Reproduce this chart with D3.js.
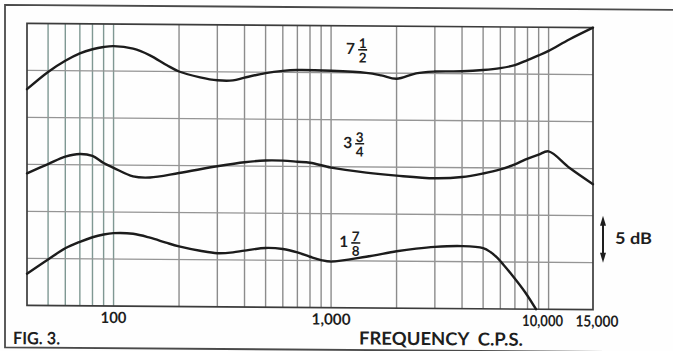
<!DOCTYPE html>
<html><head><meta charset="utf-8">
<script src="https://cdn.jsdelivr.net/npm/d3@7"></script>
<style>html,body{margin:0;padding:0;background:#fff;} svg{display:block;}</style>
</head><body><svg id="c" width="673" height="351"></svg>
<script>
// ---- data (frequency in c.p.s., response in dB relative to bottom of grid) ----
const freq7 = [40, 50, 60, 70, 80, 90, 100, 123, 147, 176, 200, 250, 300, 354, 400, 500, 600, 700, 1000, 1450, 1700, 2000, 2460, 3000, 4000, 5000, 6000, 7000, 8000, 9000, 10000, 12500, 16000];
const db7   = [23.0, 24.85, 26.05, 26.85, 27.3, 27.55, 27.65, 27.4, 26.7, 25.65, 25.0, 24.4, 24.1, 24.1, 24.4, 24.9, 25.15, 25.25, 25.2, 25.0, 24.75, 24.4, 25.0, 25.2, 25.25, 25.4, 25.62, 25.95, 26.5, 27.0, 27.5, 28.75, 30.0];

const freq3 = [40, 50, 60, 70, 80, 90, 100, 123, 147, 200, 300, 400, 500, 600, 700, 800, 1000, 1450, 2000, 3000, 4000, 5000, 6000, 7000, 7800, 9000, 10000, 12500, 16000];
const db3   = [14.05, 15.05, 15.85, 16.15, 15.95, 15.2, 14.7, 13.8, 13.7, 14.2, 14.95, 15.4, 15.6, 15.6, 15.5, 15.4, 14.9, 14.4, 14.1, 13.85, 14.0, 14.4, 14.85, 15.4, 15.9, 16.45, 16.8, 15.05, 13.35];

const freq1 = [40, 50, 60, 70, 80, 90, 100, 123, 147, 176, 200, 250, 300, 354, 400, 500, 600, 700, 800, 900, 1000, 1450, 2000, 2460, 3000, 4000, 5000, 5400, 5800, 6200, 6800, 7800, 8750];
const db1   = [3.37, 4.9, 6.1, 6.8, 7.3, 7.6, 7.75, 7.7, 7.3, 6.75, 6.4, 5.95, 5.7, 5.8, 6.0, 6.3, 6.2, 5.85, 5.4, 5.05, 4.9, 5.45, 6.05, 6.35, 6.55, 6.65, 6.45, 6.05, 5.45, 4.7, 3.6, 1.8, 0.0];

const tickValues = [100, 1000, 10000, 15000];
const tickLabels = ["100", "1,000", "10,000", "15,000"];
const dbGrid = [5, 10, 15, 20, 25];
const curveLabels = [
  {whole: "7", num: "1", den: "2", f: 1290, db: 27.0},
  {whole: "3", num: "3", den: "4", f: 1250, db: 17.0},
  {whole: "1", num: "7", den: "8", f: 1200, db: 6.45}
];
const scaleLabel = "5 dB";
const xTitle = "FREQUENCY  C.P.S.";
const figTitle = "FIG. 3.";

// ---- layout ----
const P = {left: 27, right: 593, top: 23.35, bottom: 305.35};
const k = 0.0076; // slight tilt of the scanned figure
const svg = d3.select('#c');
svg.append('rect').attr('width', 673).attr('height', 351).attr('fill', '#fefefe');
const root = svg.append('g')
  .attr('transform', `translate(0,${-k * P.left}) skewY(${Math.atan(k) * 180 / Math.PI})`);

const x = d3.scaleLog().domain([40, 16000]).range([P.left, P.right]);
const y = d3.scaleLinear().domain([0, 30]).range([P.bottom, P.top]);

const FONT = "Lato, 'Liberation Sans', sans-serif";

// outer border
root.append('path')
  .attr('d', `M673,5 L5,5 L5,347.5 L673,347.5`)
  .attr('fill', 'none').attr('stroke', '#4a4a4a').attr('stroke-width', 1.8);

// grid
const vt = x.ticks().filter(v => v > 40 && v < 16000);
root.append('g').selectAll('line').data(vt).join('line')
  .attr('x1', d => x(d)).attr('x2', d => x(d))
  .attr('y1', y(0)).attr('y2', y(30))
  .attr('stroke', d => d <= 100 ? '#7f9893' : '#8c8c8c')
  .attr('stroke-width', 1.4);
root.append('g').selectAll('line').data(dbGrid).join('line')
  .attr('x1', P.left).attr('x2', P.right)
  .attr('y1', d => y(d)).attr('y2', d => y(d))
  .attr('stroke', '#959595').attr('stroke-width', 1.4);
root.append('rect')
  .attr('x', P.left).attr('y', P.top)
  .attr('width', P.right - P.left).attr('height', P.bottom - P.top)
  .attr('fill', 'none').attr('stroke', '#3c3c3c').attr('stroke-width', 1.7);

// curves
const line = d3.line().x(d => x(d[0])).y(d => y(d[1])).curve(d3.curveCatmullRom.alpha(0.5));
[[freq7, db7], [freq3, db3], [freq1, db1]].forEach(([f, v]) => {
  root.append('path')
    .attr('d', line(f.map((ff, i) => [ff, v[i]])))
    .attr('fill', 'none').attr('stroke', '#1c1c1c').attr('stroke-width', 2.4)
    .attr('stroke-linejoin', 'round').attr('stroke-linecap', 'round');
});

// tick labels
const tickDx = {10000: -6, 15000: 10};
const tickLen = {100: 26, 1000: 39, 10000: 41, 15000: 43};
tickValues.forEach((v, i) => {
  root.append('text')
    .attr('x', x(v) + (tickDx[v] || 0)).attr('y', P.bottom + 17)
    .attr('text-anchor', 'middle')
    .attr('font-family', FONT).attr('font-weight', 700).attr('font-size', 15.5)
    .attr('textLength', tickLen[v]).attr('lengthAdjust', 'spacingAndGlyphs')
    .attr('fill', '#1e1e1e')
    .text(tickLabels[i]);
});

// titles
root.append('text')
  .attr('x', 359).attr('y', 342)
  .attr('font-family', FONT).attr('font-weight', 700).attr('font-size', 18)
  .attr('textLength', 164).attr('lengthAdjust', 'spacingAndGlyphs')
  .style('white-space', 'pre').attr('fill', '#1e1e1e')
  .text(xTitle);
root.append('text')
  .attr('x', 13).attr('y', 344.2)
  .attr('font-family', FONT).attr('font-weight', 700).attr('font-size', 17)
  .attr('textLength', 47).attr('lengthAdjust', 'spacingAndGlyphs')
  .attr('fill', '#1e1e1e')
  .text(figTitle);

// curve labels (mixed fractions)
curveLabels.forEach(c => {
  const ax = x(c.f), ay = y(c.db);
  root.append('text').attr('x', ax).attr('y', ay).attr('text-anchor', 'end')
    .attr('font-family', FONT).attr('font-weight', 700).attr('font-size', 15.5)
    .attr('fill', '#1e1e1e').text(c.whole);
  const fx = ax + 7.5;
  root.append('text').attr('x', fx).attr('y', ay - 6).attr('text-anchor', 'middle')
    .attr('font-family', FONT).attr('font-weight', 700).attr('font-size', 13.5)
    .attr('fill', '#1e1e1e').text(c.num);
  root.append('line').attr('x1', fx - 4.5).attr('x2', fx + 4.5)
    .attr('y1', ay - 4.3).attr('y2', ay - 4.3)
    .attr('stroke', '#1e1e1e').attr('stroke-width', 1.6);
  root.append('text').attr('x', fx).attr('y', ay + 8.5).attr('text-anchor', 'middle')
    .attr('font-family', FONT).attr('font-weight', 700).attr('font-size', 13.5)
    .attr('fill', '#1e1e1e').text(c.den);
});

// 5 dB scale arrow
const axX = P.right + 10;
const yA = y(10), yB = y(5);
root.append('line').attr('x1', axX).attr('x2', axX).attr('y1', yA + 6).attr('y2', yB - 6)
  .attr('stroke', '#1e1e1e').attr('stroke-width', 2);
root.append('path').attr('d', `M${axX},${yA} L${axX - 3},${yA + 10} L${axX + 3},${yA + 10} Z`).attr('fill', '#1e1e1e');
root.append('path').attr('d', `M${axX},${yB} L${axX - 3},${yB - 10} L${axX + 3},${yB - 10} Z`).attr('fill', '#1e1e1e');
root.append('text').attr('x', 615).attr('y', 239.4)
  .attr('font-family', FONT).attr('font-weight', 700).attr('font-size', 16)
  .attr('textLength', 37).attr('lengthAdjust', 'spacingAndGlyphs')
  .attr('fill', '#1e1e1e').text(scaleLabel);
</script>
</body></html>
